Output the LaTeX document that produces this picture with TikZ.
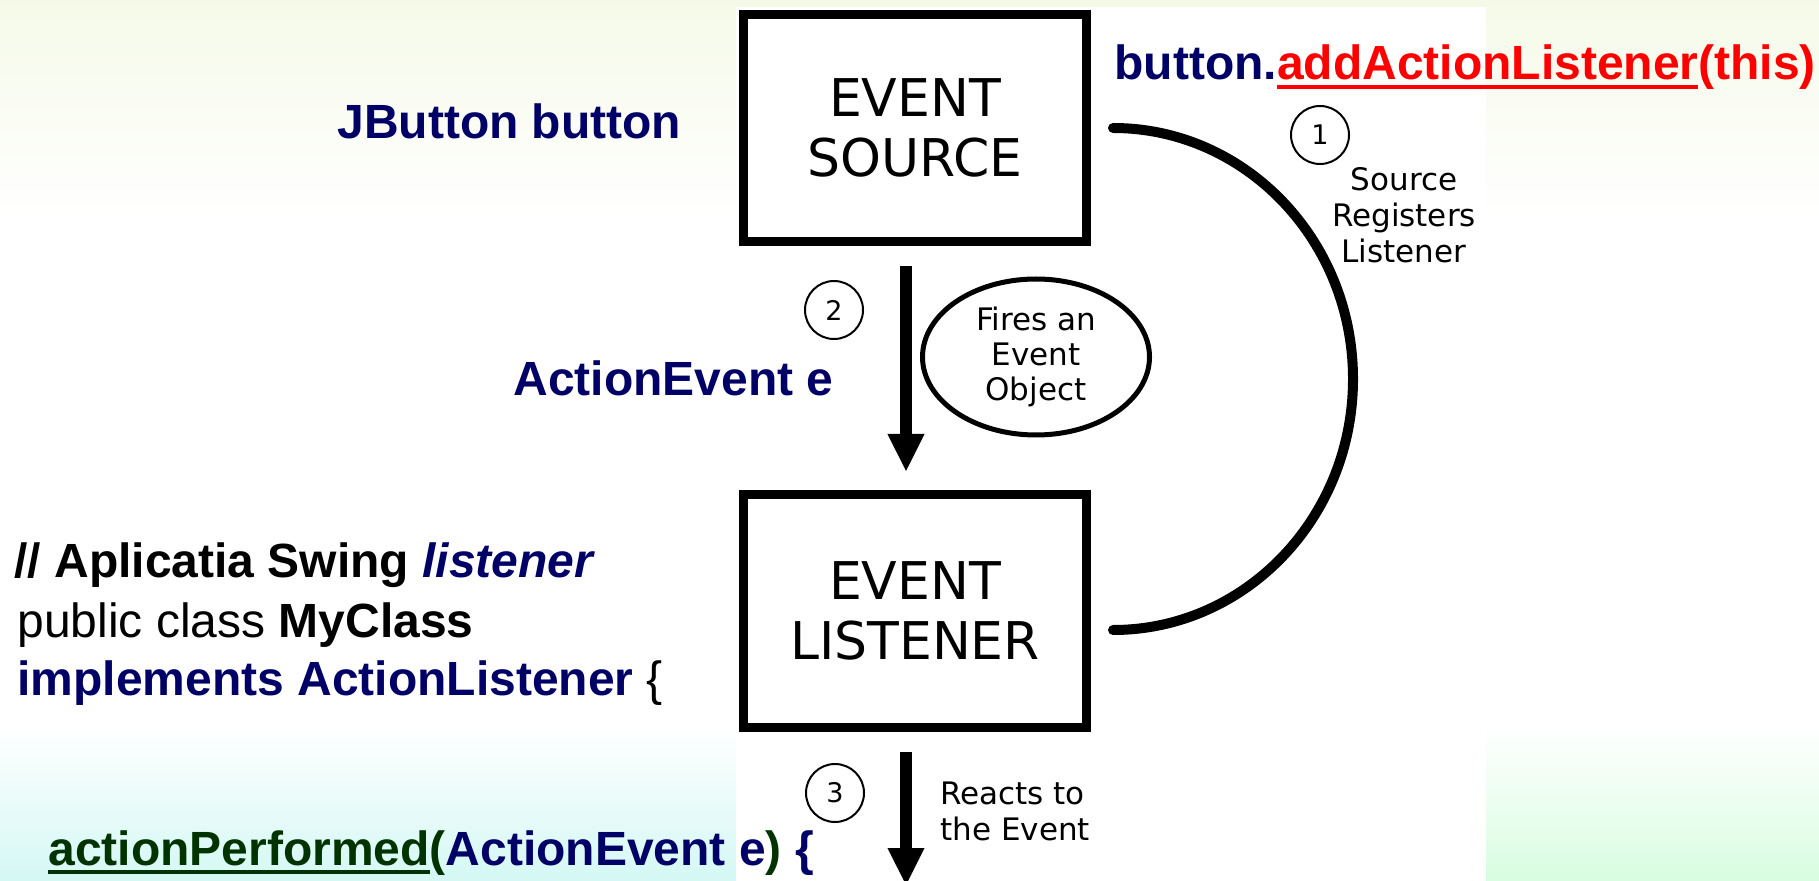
\documentclass[tikz,border=0pt]{standalone}
\usepackage{fontspec}
\setmainfont{Liberation Sans}
\newfontfamily\diagfont{DejaVu Sans}
\usetikzlibrary{arrows.meta,shapes.geometric,calc}

\definecolor{navy}{RGB}{0,0,102}
\definecolor{codered}{RGB}{255,0,0}
\definecolor{codegreen}{RGB}{0,51,0}
\definecolor{toptint}{RGB}{245,250,232}
\definecolor{cyantint}{RGB}{212,248,244}
\definecolor{greentint}{RGB}{216,253,224}

% thick underline drawn under a piece of text
\newsavebox\ulbox
\newcommand\uline[1]{\sbox\ulbox{#1}\rlap{\rule[-4.6pt]{\wd\ulbox}{2pt}}\usebox\ulbox}

\begin{document}
\begin{tikzpicture}[x=0.5pt,y=-0.5pt,
  code/.style={anchor=base west, inner sep=0pt, font=\fontsize{24}{28}\selectfont},
  framebox/.style={draw, line width=4.5pt, minimum width=171.5pt, align=center,
    inner sep=0pt, font=\diagfont\fontsize{26}{30}\selectfont},
  bubble/.style={ellipse, draw, line width=2.5pt, minimum width=113.5pt,
    minimum height=78pt, inner sep=0pt, align=center,
    font=\diagfont\fontsize{15.5}{17.5}\selectfont},
  stepno/.style={circle, draw, line width=1pt, minimum size=29pt, inner sep=0pt,
    font=\diagfont\fontsize{13.5}{16}\selectfont},
  sidetext/.style={inner sep=0pt, font=\diagfont\fontsize{15.5}{18}\selectfont},
  flow/.style={line width=6pt, -{Triangle[width=17pt,length=19pt]}},
  loopline/.style={line width=5pt, line cap=round}
]
\useasboundingbox (0,0) rectangle (1819,881);

% slide background
\fill[white] (0,0) rectangle (1819,881);
\shade[top color=toptint, bottom color=white] (0,0) rectangle (1819,220);
\shade[top color=white, bottom color=cyantint] (0,725) rectangle (736,881);
\shade[top color=white, bottom color=greentint] (1486,725) rectangle (1819,881);
% white panel behind the diagram
\fill[white] (736,7) rectangle (1486,881);

% diagram
\node[framebox, minimum height=113.5pt] (src) at (915,128) {EVENT\\SOURCE};
\node[framebox, minimum height=116.5pt] (lst) at (915,611) {EVENT\\LISTENER};
\node[bubble] (fire) at (1036,357) {Fires an\\Event\\Object};

\node[stepno] (n1) at (1320,135) {1};
\node[stepno] (n2) at (834,310) {2};
\node[stepno] (n3) at (835,793) {3};

\node[sidetext, align=center] (regtxt) at (1404,215) {Source\\Registers\\Listener};
\node[sidetext, align=left, anchor=west] (reacttxt) at (940,811) {Reacts to\\the Event};

\coordinate (sink) at (906,886);
\draw[flow] ($(src.south)+(-9,20)$) -- ($(lst.north)+(-9,-18)$);
\draw[flow] ($(lst.south)+(-9,20)$) -- (sink);
\draw[loopline] ($(src.east)+(22,0)$) arc[start angle=90, end angle=-90,
  x radius=120pt, y radius=125.5pt];

% code labels
\node[code, text=navy] (jb) at (337,139) {\bfseries JButton button};
\node[code] (reg) at (1114,80) {\bfseries\textcolor{navy}{button.}{\color{codered}\uline{addActionListener}(this)}};
\node[code, text=navy] (ae) at (513,396) {\bfseries ActionEvent e};
\node[code] (c1) at (14,577) {\bfseries // Aplicatia Swing \textcolor{navy}{\itshape listener}};
\node[code] (c2) at (17,637) {public class \textbf{MyClass}};
\node[code] (c3) at (17,695) {\textcolor{navy}{\bfseries implements ActionListener}\ \{};
\node[code] (ap) at (48,865) {\bfseries{\color{codegreen}\uline{actionPerformed}(}\textcolor{navy}{ActionEvent e}\textcolor{codegreen}{)}\textcolor{navy}{\ \{}};
\end{tikzpicture}
\end{document}
